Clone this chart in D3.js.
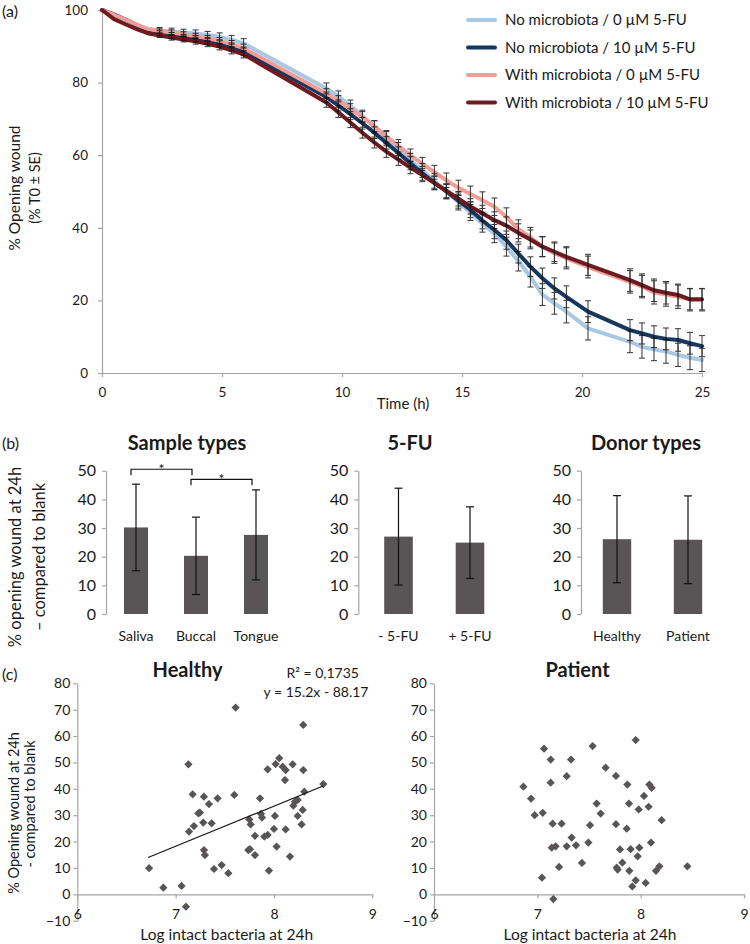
<!DOCTYPE html>
<html><head><meta charset="utf-8">
<script src="https://cdn.jsdelivr.net/npm/d3@7"></script>
<style>body{margin:0;background:#fff}svg{display:block}</style>
</head><body><svg id="c" width="750" height="944"></svg>
<script>
// ---------- Panel (a) data ----------
const times = [0,0.5,1,1.5,1.9,2.4,2.9,3.4,3.9,4.4,4.9,5.4,5.9,9.35,9.85,10.35,10.85,11.35,11.85,12.35,12.85,13.35,13.85,14.35,14.85,15.35,15.85,16.35,16.85,17.35,17.85,18.35,18.85,19.35,20.25,22,22.5,23,23.5,24,24.5,25];
const legendLabels = ["No microbiota / 0 µM 5-FU","No microbiota / 10 µM 5-FU","With microbiota / 0 µM 5-FU","With microbiota / 10 µM 5-FU"];
const noMic0  = [100,98.6,97.2,95.8,94.8, 94.4,94.1,93.8,93.5,93.1,92.6,91.8,90.8, 78.4,76.2,73.6,70.8,67.8,64.8,61.7,58.7,55.8,52.9,50.0,47.0,44.2,41.2,38.4,34.8,30.8,26.5,21.6,19.2,16.9, 12.3, 8.6,7.2,6.5,5.9,5.0,4.2,3.6];
const noMic10 = [100,98.8,97.3,95.7,94.5, 93.6,93.0,92.5,92.1,91.5,90.8,89.8,88.6, 76.0,73.7,71.3,68.8,66.2,63.4,60.6,57.8,55.0,52.4,50.0,47.5,45.0,42.0,39.4,36.6,32.9,29.3,26.1,23.3,21.0, 16.9, 11.8,10.9,10.0,9.4,9.1,8.2,7.4];
const mic0    = [100,98.7,97.3,95.8,94.8, 94.2,93.8,93.3,92.8,92.2,91.5,90.6,89.5, 77.0,75.0,72.8,70.5,68.0,65.2,62.6,60.0,57.6,55.3,53.1,51.0,49.3,47.6,45.8,43.0,39.6,37.4,34.8,33.0,31.6, 29.2, 25.1,23.8,22.2,21.6,21.0,20.2,20.2];
const mic10   = [100,97.5,96.0,94.6,93.6, 93.0,92.4,91.9,91.4,90.7,89.9,88.9,87.8, 74.5,71.8,69.0,66.2,63.5,61.0,58.8,56.6,54.5,52.3,50.2,48.0,45.9,44.0,42.1,40.6,38.6,36.8,34.8,33.4,32.0, 29.8, 25.6,24.2,22.8,22.1,21.5,20.3,20.3];
const seNoMic0  = [0,0,0,0,0, 0.8,0.9,0.9,1.0,1.0,1.1,1.2,1.3, 1.5,1.5,1.6,1.6,1.7,1.7,1.8,1.8,1.9,2.0,2.0,2.1,2.2,2.4,2.5,2.6,2.7,2.8,3.0,3.0,3.1, 3.2, 3.0,3.1,3.1,3.2,3.2,3.3,3.2];
const seNoMic10 = [0,0,0,0,0, 0.7,0.8,0.8,0.9,0.9,1.0,1.1,1.2, 1.4,1.5,1.5,1.6,1.6,1.7,1.7,1.8,1.9,1.9,2.0,2.1,2.2,2.3,2.4,2.5,2.6,2.7,2.8,2.9,3.0, 3.0, 2.9,2.9,3.0,3.0,3.1,3.0,2.9];
const seMic0    = [0,0,0,0,0, 0.6,0.7,0.7,0.8,0.8,0.9,1.0,1.1, 1.3,1.4,1.4,1.5,1.5,1.6,1.7,1.7,1.8,1.9,2.0,2.1,2.2,2.3,2.4,2.5,2.6,2.7,2.8,2.8,2.9, 3.0, 3.1,3.1,3.2,3.2,3.2,3.1,3.1];
const seMic10   = [0,0,0,0,0, 0.6,0.7,0.7,0.8,0.8,0.9,1.0,1.0, 1.3,1.4,1.4,1.5,1.5,1.6,1.6,1.7,1.8,1.8,1.9,2.0,2.1,2.2,2.3,2.4,2.5,2.6,2.7,2.7,2.8, 2.9, 3.1,3.1,3.1,3.1,3.0,2.9,2.9];
const aTicksX = [0,5,10,15,20,25];
const aTicksY = [0,20,40,60,80,100];

// ---------- Panel (b) data ----------
const sampleCats = ["Saliva","Buccal","Tongue"];
const sampleVals = [30.2,20.3,27.6];
const sampleErr  = [15.1,13.5,15.7];
const fuCats = ["- 5-FU","+ 5-FU"];
const fuVals = [27.0,24.9];
const fuErr  = [16.9,12.5];
const donorCats = ["Healthy","Patient"];
const donorVals = [26.1,25.9];
const donorErr  = [15.2,15.3];
const bTicks = [0,10,20,30,40,50];
const sigPairs = [["Saliva","Buccal"],["Buccal","Tongue"]];
const sigLevels = [50.5,47.0];

// ---------- Panel (c) data ----------
const healthyX = [6.73,6.875,7.06,7.105,7.13,7.136,7.173,7.186,7.231,7.247,7.288,7.281,7.288,7.298,7.339,7.366,7.39,7.427,7.468,7.536,7.597,7.61,7.739,7.749,7.756,7.763,7.807,7.807,7.858,7.868,7.878,7.902,7.936,7.936,7.949,8.0,8.01,8.017,8.027,8.054,8.088,8.112,8.119,8.119,8.163,8.19,8.197,8.214,8.241,8.241,8.281,8.292,8.298,8.298,8.308,8.502];
const healthyY = [9.9,2.5,3.2,-4.7,49.3,23.8,37.9,25.9,30.7,31.0,37.0,27.2,16.8,14.9,34.2,26.9,9.6,36.4,11.1,8.0,37.7,70.8,16.8,28.4,17.1,26.5,22.2,14.9,36.4,30.5,29.1,21.9,47.4,22.5,9.0,24.8,29.7,49.4,18.1,51.6,48.4,43.3,47.1,24.6,14.3,49.3,33.6,35.1,35.8,29.7,26.5,32.0,47.1,64.2,38.9,41.8];
const patientX = [6.865,6.939,6.974,7.052,7.045,7.065,7.129,7.129,7.148,7.139,7.155,7.177,7.21,7.235,7.284,7.284,7.326,7.332,7.374,7.432,7.494,7.51,7.535,7.574,7.613,7.661,7.761,7.761,7.768,7.777,7.8,7.823,7.865,7.871,7.887,7.89,7.903,7.919,7.952,7.952,7.971,7.981,7.987,8.032,8.048,8.077,8.084,8.106,8.1,8.148,8.181,8.203,8.452];
const patientY = [40.8,36.3,30.0,30.9,6.3,55.2,51.1,42.3,26.8,17.7,-1.8,18.2,10.4,26.8,44.8,18.2,51.1,21.5,18.6,11.9,19.6,26.2,56.2,34.4,30.6,48.0,44.9,26.6,10.1,9.4,17.0,12.0,24.9,41.6,34.4,8.9,17.1,3.0,58.5,5.3,14.4,32.2,17.7,37.3,4.3,33.2,41.6,40.4,19.6,8.9,10.6,28.1,10.6];
const trendSlope = 15.2, trendIntercept = -88.17, trendRange = [6.72,8.50];
const cTicksX = [6,7,8,9];
const cTicksY = [-10,0,10,20,30,40,50,60,70,80];

// ---------- drawing ----------
const FONT = "Lato, 'Open Sans', sans-serif";
const AXIS = "#a6a6a6", TXT = "#1a1a1a", BAR = "#595455";
const svg = d3.select("#c").attr("font-family", FONT);
svg.append("rect").attr("width",750).attr("height",944).attr("fill","#fff");

function styleAxis(g, fs){
  g.selectAll("path,line").attr("stroke", AXIS).attr("stroke-width",1.2);
  g.selectAll("text").attr("fill", TXT).attr("font-size", fs).attr("font-family", FONT);
}
function txt(x,y,s,fs,opt={}){
  const t = svg.append("text").attr("x",x).attr("y",y).text(s)
    .attr("font-size",fs).attr("fill",TXT).attr("text-anchor",opt.anchor||"middle");
  if(opt.bold) t.attr("font-weight","bold");
  return t;
}
function vtxt(x,y,s,fs){
  return svg.append("text").attr("transform",`translate(${x},${y}) rotate(-90)`)
    .attr("text-anchor","middle").attr("font-size",fs).attr("fill",TXT).text(s);
}

// Panel (a)
const aX = d3.scaleLinear().domain([0,25]).range([102,702]);
const aY = d3.scaleLinear().domain([0,100]).range([373,10]);
styleAxis(svg.append("g").attr("transform","translate(102,0)")
  .call(d3.axisLeft(aY).tickValues(aTicksY).tickSize(4).tickSizeOuter(0).tickPadding(10)), 13.5);
styleAxis(svg.append("g").attr("transform","translate(0,373)")
  .call(d3.axisBottom(aX).tickValues(aTicksX).tickSize(4).tickSizeOuter(0).tickPadding(10)), 13.5);

const series = [
  {vals:noMic0, se:seNoMic0, color:"#a9c8e3"},
  {vals:noMic10, se:seNoMic10, color:"#17375e"},
  {vals:mic0, se:seMic0, color:"#f29e98"},
  {vals:mic10, se:seMic10, color:"#6d1a20"}
];
const line = d3.line().x(d=>aX(d[0])).y(d=>aY(d[1]));
series.forEach(s=>{
  svg.append("path").datum(times.map((t,i)=>[t,s.vals[i]]))
    .attr("d",line).attr("fill","none").attr("stroke",s.color)
    .attr("stroke-width",4).attr("stroke-linejoin","round").attr("stroke-linecap","round");
});
const eb = svg.append("g").attr("stroke","#111").attr("stroke-width",1).attr("opacity",0.85);
series.forEach(s=>{
  times.forEach((t,i)=>{
    if(!(s.se[i]>0)) return;
    const x = aX(t), y1 = aY(s.vals[i]-s.se[i]), y2 = aY(s.vals[i]+s.se[i]);
    eb.append("line").attr("x1",x).attr("x2",x).attr("y1",y1).attr("y2",y2);
    eb.append("line").attr("x1",x-3).attr("x2",x+3).attr("y1",y1).attr("y2",y1);
    eb.append("line").attr("x1",x-3).attr("x2",x+3).attr("y1",y2).attr("y2",y2);
  });
});
// legend
legendLabels.forEach((lab,i)=>{
  const y = 20 + i*27.5;
  svg.append("line").attr("x1",468).attr("x2",495).attr("y1",y).attr("y2",y)
    .attr("stroke",series[i].color).attr("stroke-width",4).attr("stroke-linecap","round");
  txt(505,y,lab,15,{anchor:"start"}).attr("dy","0.35em");
});
vtxt(20,188,"% Opening wound",15.5);
vtxt(40,188,"(% T0 ± SE)",14.5);
txt(403,409,"Time (h)",15);
txt(2,17,"(a)",16,{anchor:"start"});

// Panel (b)
const bY = d3.scaleLinear().domain([0,50]).range([614,470.7]);
function barPanel(cats, vals, errs, range, axisX, title, titleX){
  const x = d3.scaleBand().domain(cats).range(range).paddingInner(0.6).paddingOuter(0.3);
  styleAxis(svg.append("g").attr("transform",`translate(${axisX},0)`)
    .call(d3.axisLeft(bY).tickValues(bTicks).tickSize(4).tickSizeOuter(0).tickPadding(6)), 16);
  cats.forEach((c,i)=>{
    svg.append("rect").attr("x",x(c)).attr("width",x.bandwidth())
      .attr("y",bY(vals[i])).attr("height",bY(0)-bY(vals[i])).attr("fill",BAR);
    const cx = x(c)+x.bandwidth()/2, y1=bY(vals[i]-errs[i]), y2=bY(vals[i]+errs[i]);
    const g = svg.append("g").attr("stroke","#111").attr("stroke-width",1.2);
    g.append("line").attr("x1",cx).attr("x2",cx).attr("y1",y1).attr("y2",y2);
    g.append("line").attr("x1",cx-4).attr("x2",cx+4).attr("y1",y1).attr("y2",y1);
    g.append("line").attr("x1",cx-4).attr("x2",cx+4).attr("y1",y2).attr("y2",y2);
    txt(cx,641,c,14);
  });
  txt(titleX,450,title,20,{bold:true});
  return x;
}
const xs = barPanel(sampleCats,sampleVals,sampleErr,[106,286],106,"Sample types",187);
barPanel(fuCats,fuVals,fuErr,[362.75,505.75],358.3,"5-FU",410);
barPanel(donorCats,donorVals,donorErr,[581.5,723.5],581,"Donor types",646);
sigPairs.forEach((p,i)=>{
  const xa = xs(p[0])+xs.bandwidth()/2-5, xb = xs(p[1])+xs.bandwidth()/2-4;
  const y = bY(sigLevels[i]);
  svg.append("path").attr("d",`M${xa},${y+6}V${y}H${xb}V${y+6}`)
    .attr("fill","none").attr("stroke","#111").attr("stroke-width",1.2);
  txt((xa+xb)/2,y+4.5,"*",14);
});
vtxt(21,557,"% opening wound  at 24h",16.5);
vtxt(45,557,"– compared to blank",16.5);
txt(2,449,"(b)",16,{anchor:"start"});

// Panel (c)
const cY = d3.scaleLinear().domain([-10,80]).range([920.7,683.3]);
function scatter(xv, yv, xr, title, titleX, xTitleX){
  const x = d3.scaleLinear().domain([6,9]).range(xr);
  styleAxis(svg.append("g").attr("transform",`translate(${xr[0]},0)`)
    .call(d3.axisLeft(cY).tickValues(cTicksY).tickSize(4).tickSizeOuter(0).tickPadding(3)), 14);
  styleAxis(svg.append("g").attr("transform",`translate(0,${cY(0)})`)
    .call(d3.axisBottom(x).tickValues(cTicksX).tickFormat(d3.format("d")).tickSize(4).tickSizeOuter(0).tickPadding(11)), 14);
  const sym = d3.symbol(d3.symbolSquare, 34);
  xv.forEach((v,i)=>{
    svg.append("path").attr("d",sym()).attr("fill",BAR)
      .attr("transform",`translate(${x(v)},${cY(yv[i])}) rotate(45)`);
  });
  txt(titleX,677,title,20,{bold:true});
  txt(xTitleX,940,"Log intact bacteria at 24h",15.5);
  return x;
}
const hx = scatter(healthyX,healthyY,[77.3,372.3],"Healthy",187.5,226.7);
scatter(patientX,patientY,[434,744],"Patient",577.5,590);
svg.append("line")
  .attr("x1",hx(trendRange[0])).attr("y1",cY(trendSlope*trendRange[0]+trendIntercept))
  .attr("x2",hx(trendRange[1])).attr("y2",cY(trendSlope*trendRange[1]+trendIntercept))
  .attr("stroke","#111").attr("stroke-width",1.1);
txt(322.7,678,"R² = 0,1735",14);
txt(316,697,"y = 15.2x - 88.17",14);
vtxt(19,813,"% Opening wound at 24h",14.5);
vtxt(35,804,"- compared to blank",14.5);
txt(2,680,"(c)",16,{anchor:"start"});
</script></body></html>
